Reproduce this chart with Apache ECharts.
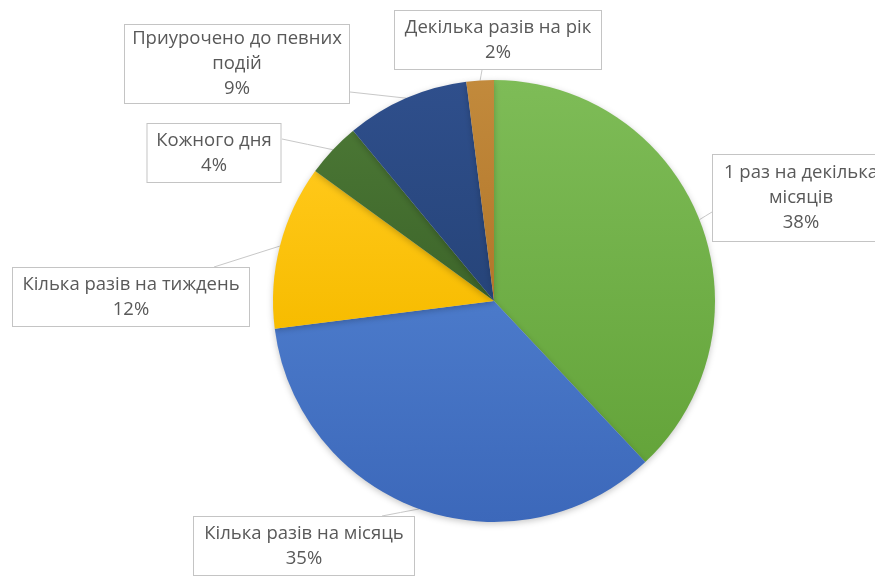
<!DOCTYPE html>
<html>
<head>
<meta charset="utf-8">
<script src="https://cdn.jsdelivr.net/npm/echarts@6/dist/echarts.min.js"></script>
<style>
  html, body { margin: 0; padding: 0; background: #ffffff; }
  #chart { width: 875px; height: 576px; }
</style>
</head>
<body>
<div id="chart"></div>
<script>
// Categories (clockwise from 12 o'clock) and their shares, %
const categories = [
  '1 раз на декілька\nмісяців',
  'Кілька разів на місяць',
  'Кілька разів на тиждень',
  'Кожного дня',
  'Приурочено до певних\nподій',
  'Декілька разів на рік'
];
const shares = [38, 35, 12, 4, 9, 2];

// Slice colours: [top, bottom] of a soft vertical gradient
const sliceColors = [
  ['#7ebc57', '#64a43a'],
  ['#4b7aca', '#3c68ba'],
  ['#ffc819', '#f7bc00'],
  ['#4a7634', '#3d652a'],
  ['#2f4f8c', '#264479'],
  ['#c28a3c', '#b2762a']
];

// Callout boxes: centre x, centre y, width, height
const boxes = [
  [801, 198, 178, 88],
  [304, 546, 222, 60],
  [131, 297, 238, 60],
  [214, 153, 135, 60],
  [237, 64, 226, 80],
  [498, 40, 208, 60]
];
// Where each leader line meets its box
const pointerEnds = [
  [712, 212],
  [382, 516],
  [214, 267],
  [282, 139],
  [350, 92],
  [482, 70]
];
const padTop = 8;

const chart = echarts.init(document.getElementById('chart'), null, { renderer: 'canvas' });

const data = categories.map((name, i) => ({
  name: name,
  value: shares[i],
  itemStyle: {
    color: {
      type: 'linear', x: 0, y: 0, x2: 0, y2: 1,
      colorStops: [
        { offset: 0, color: sliceColors[i][0] },
        { offset: 1, color: sliceColors[i][1] }
      ]
    }
  },
  label: {
    width: boxes[i][2] - 2,
    height: boxes[i][3] - 2 - padTop
  }
}));

chart.setOption({
  backgroundColor: '#ffffff',
  animation: false,
  series: [{
    type: 'pie',
    center: [494, 301],
    radius: [0, 221],
    startAngle: 90,
    clockwise: true,
    avoidLabelOverlap: false,
    data: data,
    itemStyle: {
      borderWidth: 0,
      shadowBlur: 6,
      shadowOffsetY: 2,
      shadowColor: 'rgba(0,0,0,0.22)'
    },
    label: {
      show: true,
      position: 'outside',
      formatter: p => p.name + '\n' + p.value + '%',
      fontFamily: 'Open Sans',
      fontSize: 18.5,
      lineHeight: 25,
      color: '#595959',
      backgroundColor: '#ffffff',
      borderColor: '#c4c4c4',
      borderWidth: 1,
      align: 'center',
      verticalAlign: 'middle',
      padding: [padTop, 0, 0, 0]
    },
    labelLine: {
      show: true,
      length: 10,
      length2: 10,
      lineStyle: { color: '#c8c8c8', width: 1 }
    },
    labelLayout: function (params) {
      const i = params.dataIndex;
      const b = boxes[i];
      const end = pointerEnds[i];
      const start = params.labelLinePoints ? params.labelLinePoints[0] : end;
      const mid = [(start[0] + end[0]) / 2, (start[1] + end[1]) / 2];
      return {
        x: b[0],
        y: b[1],
        align: 'center',
        verticalAlign: 'middle',
        labelLinePoints: [start, mid, end]
      };
    }
  }]
});
</script>
</body>
</html>
